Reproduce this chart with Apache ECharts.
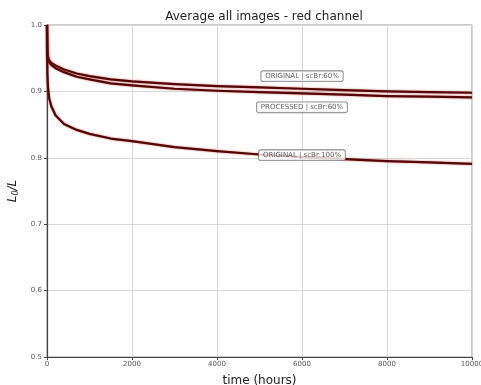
<!DOCTYPE html>
<html><head><meta charset="utf-8">
<script src="https://cdn.jsdelivr.net/npm/echarts@6/dist/echarts.min.js"></script>
<style>html,body{margin:0;padding:0;background:#fff}#c{width:481px;height:385px}</style>
</head><body><div id="c"></div>
<script>
const times = [0, 5, 10, 25, 50, 100, 200, 400, 700, 1000, 1500, 2000, 3000, 4000, 5000, 6000, 7000, 8000, 9000, 10000];
const origScbr60 = [1.0, 0.975, 0.962, 0.952, 0.947, 0.943, 0.939, 0.933, 0.927, 0.923, 0.918, 0.915, 0.911, 0.908, 0.906, 0.904, 0.902, 0.900, 0.899, 0.898];
const procScbr60 = [1.0, 0.972, 0.958, 0.949, 0.944, 0.940, 0.935, 0.929, 0.922, 0.918, 0.912, 0.909, 0.904, 0.901, 0.899, 0.897, 0.895, 0.893, 0.892, 0.891];
const origScbr100 = [1.0, 0.950, 0.925, 0.905, 0.890, 0.878, 0.864, 0.851, 0.842, 0.836, 0.829, 0.825, 0.816, 0.810, 0.805, 0.801, 0.798, 0.795, 0.793, 0.791];
const labelTexts = ['ORIGINAL | scBr:60%', 'PROCESSED | scBr:60%', 'ORIGINAL | scBr:100%'];
const labelX = [6000, 6000, 6000];
const labelY = [0.923, 0.876, 0.804];
const xTicks = [0, 2000, 4000, 6000, 8000, 10000];
const yTicks = [0.5, 0.6, 0.7, 0.8, 0.9, 1.0];

const chart = echarts.init(document.getElementById('c'), null, {renderer: 'canvas'});
function curve(name, vals) {
  return {
    name: name, type: 'line', showSymbol: false, symbol: 'none', z: 3, smooth: false,
    data: times.map((t, i) => [t, vals[i]]),
    lineStyle: {color: '#500707', width: 2.2, join: 'round', shadowColor: 'rgba(200,50,50,0.75)', shadowBlur: 2}
  };
}
chart.setOption({
  animation: false,
  title: {text: 'Average all images - red channel', left: 259, textAlign: 'center', top: 6,
    textStyle: {fontFamily: 'DejaVu Sans', fontSize: 12, fontWeight: 'normal', color: '#222'}},
  grid: {left: 47, right: 9, top: 25, bottom: 28, show: true, borderColor: '#999', borderWidth: 1,
    containLabel: false, outerBoundsMode: 'none'},
  xAxis: {
    type: 'value', min: 0, max: 10000, interval: 2000,
    name: 'time (hours)', nameLocation: 'middle', nameGap: 18,
    nameTextStyle: {fontFamily: 'DejaVu Sans', fontSize: 12, color: '#222'},
    axisLine: {lineStyle: {color: '#444', width: 1.2}},
    axisTick: {show: true, length: 3, lineStyle: {color: '#444'}},
    axisLabel: {fontFamily: 'DejaVu Sans', fontSize: 7, color: '#555', margin: 4,
      formatter: v => xTicks.includes(v) ? String(v) : ''},
    splitLine: {show: true, lineStyle: {color: '#d8d8d8', width: 1}}
  },
  yAxis: {
    type: 'value', min: 0.5, max: 1.0, interval: 0.1,
    name: '{a|L}{b|0}{a|/L}', nameLocation: 'middle', nameGap: 22, nameRotate: 90,
    nameTextStyle: {rich: {
      a: {fontFamily: 'DejaVu Sans', fontStyle: 'italic', fontSize: 12, color: '#222'},
      b: {fontFamily: 'DejaVu Sans', fontStyle: 'italic', fontSize: 8, color: '#222', padding: [6, 0, 0, 0]}
    }},
    axisLine: {show: true, lineStyle: {color: '#444', width: 1.2}},
    axisTick: {show: true, length: 3, lineStyle: {color: '#444'}},
    axisLabel: {fontFamily: 'DejaVu Sans', fontSize: 7, color: '#555', margin: 5,
      formatter: v => { const t = yTicks.find(y => Math.abs(y - v) < 1e-6); return t !== undefined ? t.toFixed(1) : ''; }},
    splitLine: {show: true, lineStyle: {color: '#d8d8d8', width: 1}}
  },
  series: [
    curve('ORIGINAL scBr60', origScbr60),
    curve('PROCESSED scBr60', procScbr60),
    curve('ORIGINAL scBr100', origScbr100),
    {
      type: 'scatter', symbolSize: 0, z: 10,
      data: labelX.map((x, i) => ({value: [x, labelY[i]], name: labelTexts[i]})),
      label: {show: true, position: 'inside', formatter: p => p.name,
        fontFamily: 'DejaVu Sans', fontSize: 7, color: '#333',
        backgroundColor: '#fff', borderColor: '#666', borderWidth: 0.8, borderRadius: 2,
        padding: [2, 4, 1, 4]}
    }
  ]
});
</script></body></html>
